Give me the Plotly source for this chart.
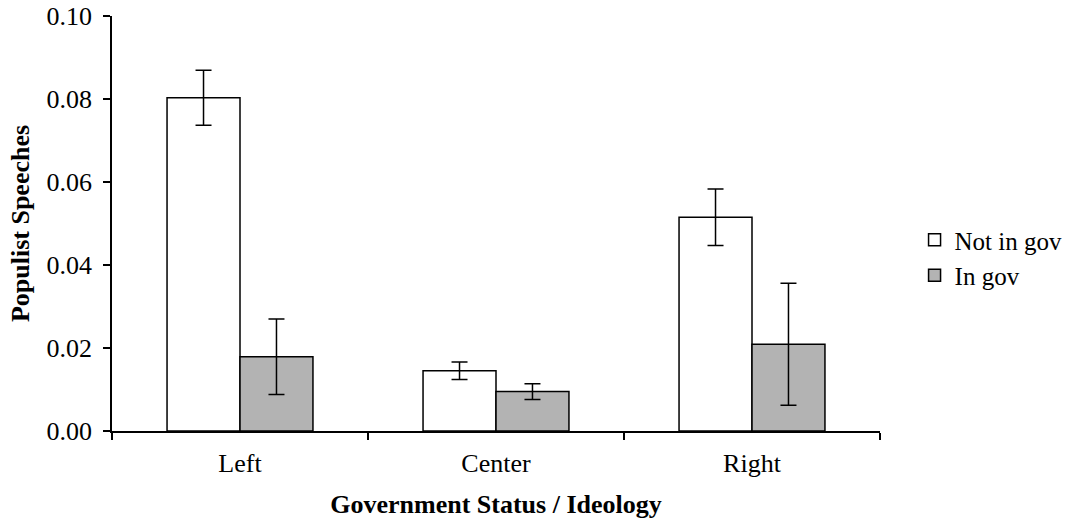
import plotly.graph_objects as go

categories = ["Left", "Center", "Right"]
not_in_gov = [0.0803, 0.0145, 0.0515]
not_in_gov_err = [0.0066, 0.0021, 0.0068]
in_gov = [0.0179, 0.0095, 0.0209]
in_gov_err = [0.0091, 0.0019, 0.0147]
y_ticks = [0.0, 0.02, 0.04, 0.06, 0.08, 0.10]
y_tick_labels = ["0.00", "0.02", "0.04", "0.06", "0.08", "0.10"]

FONT = "Liberation Serif, Times New Roman, serif"
FS = 26

fig = go.Figure()
fig.add_trace(go.Bar(
    name="Not in gov", x=categories, y=not_in_gov,
    marker=dict(color="white", line=dict(color="black", width=1.5)),
    error_y=dict(type="data", array=not_in_gov_err, color="black", thickness=1.5, width=8),
))
fig.add_trace(go.Bar(
    name="In gov", x=categories, y=in_gov,
    marker=dict(color="#b3b3b3", line=dict(color="black", width=1.5)),
    error_y=dict(type="data", array=in_gov_err, color="black", thickness=1.5, width=8),
))

fig.update_layout(
    width=1069, height=525,
    margin=dict(l=112, r=189, t=16, b=94, autoexpand=False),
    paper_bgcolor="white", plot_bgcolor="white",
    barmode="group", bargap=0.43, bargroupgap=0,
    font=dict(family=FONT, size=FS, color="black"),
    legend=dict(x=1.045, y=0.418, xanchor="left", yanchor="middle",
                font=dict(family=FONT, size=25, color="black"),
                itemwidth=30, bgcolor="rgba(0,0,0,0)"),
    showlegend=True,
)
fig.update_xaxes(
    automargin=False,
    showline=True, linecolor="black", linewidth=1.5,
    ticks="outside", tickson="boundaries", ticklen=7, tickwidth=1.5, tickcolor="black",
    ticklabelstandoff=8,
    showgrid=False, zeroline=False,
    title=dict(text="<b>Government Status / Ideology</b>", font=dict(family=FONT, size=FS), standoff=18),
    tickfont=dict(family=FONT, size=FS),
)
fig.update_yaxes(
    automargin=False,
    range=[0, 0.10], tickvals=y_ticks, ticktext=y_tick_labels,
    showline=True, linecolor="black", linewidth=1.5,
    ticks="outside", ticklen=7, tickwidth=1.5, tickcolor="black",
    ticklabelstandoff=6,
    showgrid=False, zeroline=False,
    title=dict(text="<b>Populist Speeches</b>", font=dict(family=FONT, size=FS), standoff=9),
    tickfont=dict(family=FONT, size=FS),
)

fig.write_html("out.html", config={"displayModeBar": False},
               post_script="document.body.style.margin='0';")
